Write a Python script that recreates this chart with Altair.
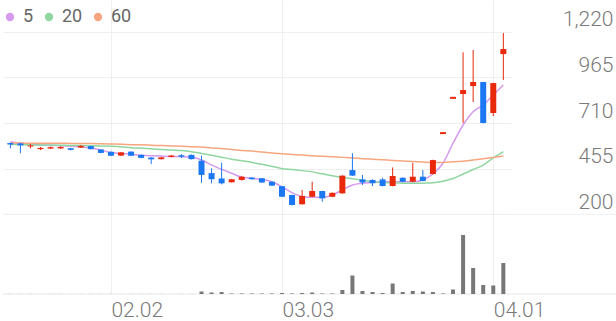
import altair as alt
import pandas as pd

# ---- data ----
dates = [
    "01.19", "01.20", "01.21", "01.22", "01.23", "01.26", "01.27", "01.28", "01.29", "01.30",
    "02.02", "02.03", "02.04", "02.05", "02.06", "02.09", "02.10", "02.11", "02.12", "02.13",
    "02.19", "02.20", "02.23", "02.24", "02.25", "02.26", "02.27",
    "03.03", "03.04", "03.05", "03.06", "03.09", "03.10", "03.11", "03.12", "03.13",
    "03.16", "03.17", "03.18", "03.19", "03.20", "03.23", "03.24", "03.25", "03.26", "03.27",
    "03.30", "03.31", "04.01", "04.02",
]
opens = [598, 596, 579, 564, 567, 568, 569, 573, 581, 562,
         549, 528, 550, 532, 517, 508, 520, 530, 532, 499,
         430, 400, 379, 392, 405, 401, 382,
         357, 308, 256, 298, 330, 298, 317, 447, 395,
         392, 395, 358, 404, 382, 410, 425, 648, 845, 872,
         916, 939, 766, 1095]
highs = [600, 598, 592, 576, 578, 580, 571, 586, 583, 564,
         551, 548, 552, 534, 519, 521, 532, 536, 534, 527,
         457, 488, 398, 415, 407, 402, 383,
         358, 309, 336, 382, 332, 322, 418, 541, 420,
         395, 404, 462, 406, 488, 447, 505, 659, 856, 1105,
         1118, 940, 935, 1213]
lows = [569, 541, 568, 558, 565, 565, 557, 571, 562, 541,
        525, 526, 525, 513, 481, 506, 518, 514, 506, 376,
        373, 367, 377, 388, 394, 375, 358,
        296, 250, 254, 296, 270, 296, 315, 414, 364,
        358, 356, 356, 380, 380, 384, 423, 648, 845, 710,
        827, 708, 749, 950]
closes = [590, 585, 585, 571, 575, 576, 560, 582, 564, 543,
          527, 546, 527, 515, 507, 518, 528, 522, 508, 420,
          396, 373, 396, 410, 396, 377, 360,
          298, 252, 302, 330, 289, 320, 416, 416, 378,
          374, 358, 414, 382, 410, 386, 503, 659, 856, 894,
          939, 710, 933, 1123]
volumes = [8, 6, 8, 5, 6, 7, 5, 6, 8, 6,
           7, 5, 6, 8, 7, 6, 5, 8, 6, 250,
           150, 200, 50, 50, 50, 50, 50,
           100, 50, 100, 150, 50, 50, 400, 1850, 300,
           200, 100, 1050, 200, 300, 250, 200, 50, 450, 5900,
           2600, 900, 850, 3100]
ma5 = [605, 597, 592, 587, 585, 583, 580, 578, 570, 559,
       545, 540, 535, 530, 527, 525, 523, 522, 520, 503,
       475, 451, 429, 407, 401, 395, 382,
       354, 321, 300, 295, 295, 308, 336, 364, 373,
       377, 382, 382, 382, 382, 392, 425, 485, 597, 699,
       773, 810, 866, 922]
ma20 = [590, 589, 588, 587, 587, 586, 585, 584, 583, 582,
        580, 577, 572, 569, 566, 562, 559, 556, 550, 540,
        530, 519, 508, 499, 490, 479, 468,
        455, 450, 444, 437, 426, 415, 406, 398, 390,
        382, 378, 375, 374, 373, 374, 376, 385, 400, 425,
        450, 475, 515, 550]
ma60 = [598, 598, 597, 597, 597, 597, 596, 595, 595, 594,
        593, 591, 589, 588, 586, 584, 582, 580, 578, 576,
        571, 567, 562, 557, 553, 548, 543,
        538, 534, 531, 527, 524, 521, 518, 515, 511,
        508, 505, 501, 498, 495, 492, 490, 490, 493, 497,
        503, 510, 518, 526]
tick_idx = [10, 27, 48]
price_ticks = [200, 455, 710, 965, 1220]
ma_names = ["5", "20", "60"]

UP = "#e8290c"
DOWN = "#1b77f2"
MA_COLORS = ["#d59aef", "#8fd6a1", "#f7a67f"]
GRID = "#efefef"

n = len(dates)
idx = list(range(n))
candles = pd.DataFrame({
    "i": idx, "date": dates, "open": opens, "high": highs,
    "low": lows, "close": closes, "volume": volumes,
})
candles["col"] = [UP if c >= o else DOWN for o, c in zip(opens, closes)]

ma_df = pd.DataFrame({
    "i": idx * 3,
    "value": ma5 + ma20 + ma60,
    "series": [ma_names[0]] * n + [ma_names[1]] * n + [ma_names[2]] * n,
})

label_expr = " : ".join(
    f"datum.value == {t} ? '{dates[t]}'" for t in tick_idx[:-1]
) + f" : '{dates[tick_idx[-1]]}'"

xs = alt.Scale(domain=[-0.234, 49.265], nice=False, zero=False)
ys = alt.Scale(domain=[-245.2, 1397.1], nice=False, zero=False)
vs = alt.Scale(domain=[0, 29400], nice=False, zero=True)
cs = alt.Scale(domain=ma_names, range=MA_COLORS)

xaxis = alt.Axis(
    values=tick_idx, labelExpr=label_expr, title=None, grid=True,
    gridColor=GRID, gridWidth=1, domain=False, ticks=False, tickSize=0,
    labelFont="Roboto", labelFontWeight=300, labelFontSize=21,
    labelColor="#7a7a7a", labelAlign="left", labelBaseline="alphabetic",
    labelPadding=22, labelFlush=False, labelOverlap=False, labelBound=False,
)
yaxis = alt.Axis(
    orient="right", values=price_ticks, format=",.0f", title=None, grid=True,
    gridColor=GRID, gridWidth=1, domain=False, ticks=False, tickSize=0,
    labelFont="Roboto", labelFontWeight=300, labelFontSize=21,
    labelColor="#7a7a7a", labelAlign="right", labelBaseline="alphabetic",
    labelPadding=102, labelOffset=-6, labelFlush=False, labelOverlap=False,
    labelBound=False,
)
legend = alt.Legend(
    orient="none", legendX=-2, legendY=8, direction="horizontal",
    title=None, symbolType="circle", symbolSize=70, symbolStrokeWidth=0,
    symbolOpacity=1,
    labelFont="Roboto", labelFontSize=18, labelColor="#666666",
    labelOffset=4, columnPadding=6, gridAlign="each", padding=0,
)

X = alt.X("i:Q", scale=xs, axis=xaxis)

base = alt.Chart(candles)

rule200 = alt.Chart(pd.DataFrame({"v": [price_ticks[0]]})).mark_rule(
    color=GRID, strokeWidth=1
).encode(
    y=alt.Y("v:Q", scale=ys, axis=yaxis), x=alt.value(0), x2=alt.value(613)
)

wick = base.mark_rule(strokeWidth=1).encode(
    x=X,
    y=alt.Y("low:Q", scale=ys, axis=yaxis),
    y2="high:Q",
    stroke=alt.Stroke("col:N", scale=None),
)
body = base.mark_bar(size=6).encode(
    x=X,
    y=alt.Y("open:Q", scale=ys, axis=yaxis),
    y2="close:Q",
    fill=alt.Fill("col:N", scale=None),
)
legend_layer = alt.Chart(ma_df).mark_circle(size=70, opacity=1).encode(
    x=X,
    y=alt.Y("value:Q", scale=ys, axis=yaxis),
    color=alt.Color("series:N", scale=cs, legend=legend),
).transform_filter("datum.i < 0")
ma_lines = alt.Chart(ma_df).mark_line(strokeWidth=1.5, interpolate="monotone").encode(
    x=X,
    y=alt.Y("value:Q", scale=ys, axis=yaxis),
    color=alt.Color("series:N", scale=cs, legend=None),
    detail="series:N",
)

price = alt.layer(legend_layer, rule200, ma_lines, wick, body)

vol_base = alt.Chart(pd.DataFrame({"v": [0]})).mark_rule(
    color="#e6e6e6", strokeWidth=1
).encode(
    y=alt.Y("v:Q", scale=vs, axis=None), x=alt.value(0), x2=alt.value(613)
)
vol_bars = base.mark_bar(size=4, color="#777777").encode(
    x=X,
    y=alt.Y("volume:Q", scale=vs, axis=None),
)
volume = alt.layer(vol_base, vol_bars)

chart = alt.layer(price, volume).resolve_scale(y="independent").properties(
    width=508,
    height=294,
    padding={"left": 3, "top": 0, "right": 105, "bottom": 27},
    autosize=alt.AutoSizeParams(type="none"),
    background="white",
).configure_view(stroke=None)

chart.save("out.html", embed_options={"renderer": "svg", "actions": False})
